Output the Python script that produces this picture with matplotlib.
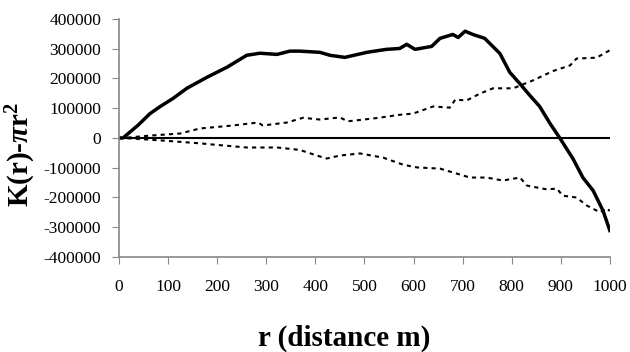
import matplotlib
matplotlib.use("Agg")
import matplotlib.pyplot as plt

plt.rcParams['font.family'] = ['Liberation Serif', 'DejaVu Serif']
plt.rcParams['axes.unicode_minus'] = False
plt.rcParams['mathtext.fontset'] = 'custom'
plt.rcParams['mathtext.rm'] = 'Liberation Serif:bold'
plt.rcParams['mathtext.it'] = 'Liberation Serif:italic:bold'
plt.rcParams['mathtext.bf'] = 'Liberation Serif:bold'

# observed K(r) - pi r^2
r_obs = [0, 8, 40, 63, 84, 110, 138, 179, 220, 260, 287, 322, 348, 368, 409, 430, 460,
         505, 545, 572, 586, 603, 637, 654, 680, 691, 705, 721, 745, 776, 796, 817,
         837, 857, 878, 898, 925, 945, 966, 986, 1000]
k_obs = [0, 0, 45000, 82000, 106000, 133000, 167000, 204000, 238000, 278000, 285000,
         281000, 292000, 292000, 288000, 278000, 271000, 288000, 298000, 301000, 315000,
         298000, 308000, 335000, 348000, 338000, 359000, 348000, 335000, 284000, 221000,
         182000, 143000, 106000, 49000, 0, -70000, -133000, -177000, -244000, -311000]

# upper envelope
r_up = [0, 8, 63, 124, 165, 232, 283, 293, 342, 375, 409, 450, 466, 525, 572, 599,
        640, 674, 685, 708, 735, 762, 803, 844, 884, 919, 932, 973, 1000]
k_up = [0, 0, 8000, 15000, 32000, 42000, 52000, 42000, 52000, 68000, 62000, 69000,
        56000, 67000, 78000, 82000, 106000, 102000, 129000, 126000, 149000, 167000,
        167000, 194000, 225000, 244000, 267000, 270000, 295000]

# lower envelope
r_lo = [0, 8, 84, 165, 191, 260, 322, 368, 403, 423, 450, 491, 538, 579, 607, 654,
        715, 749, 782, 817, 831, 872, 892, 904, 932, 953, 980, 993, 1000]
k_lo = [0, 0, -8000, -18000, -22000, -32000, -32000, -40000, -59000, -69000, -59000,
        -52000, -66000, -90000, -99000, -103000, -133000, -133000, -143000, -133000,
        -160000, -173000, -170000, -194000, -200000, -227000, -250000, -237000, -245000]

fig = plt.figure(figsize=(6.3, 3.52), dpi=100)
ax = fig.add_axes([0.189, 0.270, 0.779, 0.676])

ax.axhline(0, color='black', lw=1.5)
ax.plot(r_up, k_up, color='black', lw=1.5, ls=(0, (2, 2)))
ax.plot(r_lo, k_lo, color='black', lw=1.5, ls=(0, (2, 2)))
ax.plot(r_obs, k_obs, color='black', lw=2.5)

ax.set_xlim(0, 1000)
ax.set_ylim(-400000, 400000)
ax.set_xticks(range(0, 1001, 100))
ax.set_yticks(range(-400000, 400001, 100000))
ax.spines['top'].set_visible(False)
ax.spines['right'].set_visible(False)
for s in ['left', 'bottom']:
    ax.spines[s].set_color('#888888')
    ax.spines[s].set_linewidth(1.2)
ax.tick_params(axis='x', direction='out', length=5, color='#888888', labelsize=12.5, pad=11)
ax.tick_params(axis='y', direction='out', length=5, color='#888888', labelsize=12.5, pad=8)

ax.set_xlabel('r (distance m)', fontsize=21, fontweight='bold')
ax.xaxis.set_label_coords(0.459, -0.285)
ax.set_ylabel(r'K(r)-$\pi$r$^{2}$', fontsize=21, fontweight='bold')
ax.yaxis.set_label_coords(-0.165, 0.43)

fig.savefig('out.png', dpi=100)
